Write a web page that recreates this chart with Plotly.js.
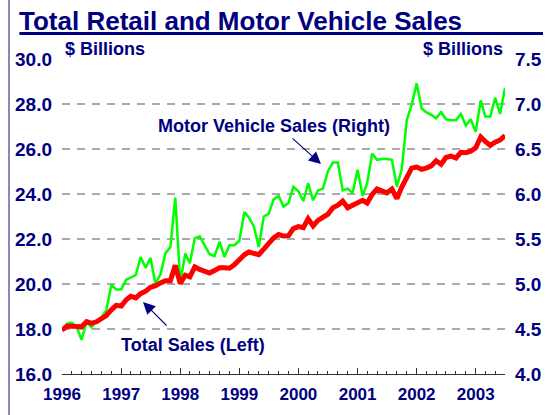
<!DOCTYPE html>
<html>
<head>
<meta charset="utf-8">
<script src="https://cdn.plot.ly/plotly-3.0.1.min.js"></script>
<style>html,body{margin:0;padding:0;background:#fff;}#chart{width:553px;height:415px;}</style>
</head>
<body>
<div id="chart"></div>
<script>
// Monthly observations, Jan 1996 - Jul 2003
var months = [
 '1996-01-01','1996-02-01','1996-03-01','1996-04-01','1996-05-01','1996-06-01','1996-07-01','1996-08-01','1996-09-01','1996-10-01','1996-11-01','1996-12-01',
 '1997-01-01','1997-02-01','1997-03-01','1997-04-01','1997-05-01','1997-06-01','1997-07-01','1997-08-01','1997-09-01','1997-10-01','1997-11-01','1997-12-01',
 '1998-01-01','1998-02-01','1998-03-01','1998-04-01','1998-05-01','1998-06-01','1998-07-01','1998-08-01','1998-09-01','1998-10-01','1998-11-01','1998-12-01',
 '1999-01-01','1999-02-01','1999-03-01','1999-04-01','1999-05-01','1999-06-01','1999-07-01','1999-08-01','1999-09-01','1999-10-01','1999-11-01','1999-12-01',
 '2000-01-01','2000-02-01','2000-03-01','2000-04-01','2000-05-01','2000-06-01','2000-07-01','2000-08-01','2000-09-01','2000-10-01','2000-11-01','2000-12-01',
 '2001-01-01','2001-02-01','2001-03-01','2001-04-01','2001-05-01','2001-06-01','2001-07-01','2001-08-01','2001-09-01','2001-10-01','2001-11-01','2001-12-01',
 '2002-01-01','2002-02-01','2002-03-01','2002-04-01','2002-05-01','2002-06-01','2002-07-01','2002-08-01','2002-09-01','2002-10-01','2002-11-01','2002-12-01',
 '2003-01-01','2003-02-01','2003-03-01','2003-04-01','2003-05-01','2003-06-01','2003-07-01'
];

// Total retail sales, $ billions (left axis)
var totalSales = [
 17.95,18.12,18.12,18.09,18.10,18.33,18.25,18.32,18.46,18.60,18.85,19.05,
 19.02,19.30,19.45,19.38,19.57,19.68,19.85,19.92,20.05,20.15,20.15,20.83,
 20.02,20.39,20.32,20.76,20.65,20.55,20.49,20.60,20.72,20.72,20.70,20.85,
 21.10,21.30,21.42,21.37,21.30,21.55,21.80,22.05,22.20,22.13,22.15,22.46,
 22.55,22.50,22.90,22.58,22.83,22.98,23.10,23.39,23.50,23.68,23.39,23.50,
 23.62,23.72,23.60,23.98,24.22,24.12,24.05,24.22,23.80,24.31,24.75,25.15,
 25.20,25.10,25.15,25.25,25.48,25.32,25.62,25.68,25.60,25.85,25.83,25.90,
 26.05,26.53,26.34,26.16,26.30,26.40,26.60
];

// Motor vehicle sales, $ billions (right axis)
var motorVehicle = [
 4.49,4.56,4.57,4.52,4.38,4.58,4.52,4.59,4.63,4.71,4.99,4.94,
 4.94,5.05,5.07,5.10,5.30,5.18,5.29,5.00,5.11,5.34,5.41,5.96,
 5.02,5.34,5.23,5.51,5.53,5.42,5.33,5.31,5.47,5.30,5.43,5.43,
 5.48,5.80,5.74,5.64,5.41,5.75,5.78,5.94,5.98,5.86,5.90,6.08,
 6.03,5.92,6.12,5.93,6.04,6.06,6.25,6.35,6.35,6.04,6.06,6.01,
 6.27,5.98,6.12,6.45,6.38,6.39,6.39,6.38,6.08,6.28,6.82,6.99,
 7.23,6.95,6.91,6.88,6.84,6.91,6.83,6.82,6.82,6.89,6.76,6.83,
 6.69,7.04,6.86,6.86,7.07,6.89,7.18
];

var leftTicks = [16, 18, 20, 22, 24, 26, 28, 30];
var rightTicks = [4.0, 4.5, 5.0, 5.5, 6.0, 6.5, 7.0, 7.5];

var NAVY = '#000080';
var FONT = 'Liberation Sans, Arial, sans-serif';

// pixel -> paper helpers (plot area: left 62, width 443, bottom 374, height 315)
function px(x) { return (x - 62) / 443; }
function py(y) { return (374 - y) / 315; }

var traces = [
  {
    x: months, y: motorVehicle, yaxis: 'y', type: 'scatter', mode: 'lines',
    name: 'Motor Vehicle Sales (Right)',
    line: {color: '#00ff00', width: 2.5}
  },
  {
    x: months, y: totalSales, yaxis: 'y2', type: 'scatter', mode: 'lines',
    name: 'Total Sales (Left)',
    line: {color: '#ff0000', width: 5}
  }
];

var tickFont = {family: FONT, size: 19, color: NAVY, weight: 'bold'};

var layout = {
  width: 553, height: 415,
  margin: {l: 62, r: 48, t: 59, b: 41, pad: 0},
  paper_bgcolor: '#ffffff', plot_bgcolor: '#ffffff',
  showlegend: false,
  title: {
    text: '<b>Total Retail and Motor Vehicle Sales</b>',
    font: {family: FONT, size: 26, color: NAVY},
    xref: 'container', x: 19 / 553, xanchor: 'left',
    yref: 'container', y: 1 - 20.9 / 415, yanchor: 'middle'
  },
  xaxis: {
    type: 'date',
    range: ['1996-01-01', '2003-07-01'],
    tick0: '1996-01-01', dtick: 'M12', tickformat: '%Y',
    ticks: 'inside', ticklen: 6, tickwidth: 1, tickcolor: '#333333',
    showline: true, linecolor: '#333333', linewidth: 1,
    showgrid: false, zeroline: false,
    tickfont: {family: FONT, size: 17, color: NAVY, weight: 'bold'},
    ticklabelstandoff: 5,
    minor: {ticks: 'inside', ticklen: 3, dtick: 'M2', tickcolor: '#333333', tickwidth: 1, showgrid: false}
  },
  yaxis: {
    side: 'right',
    range: [4, 7.5],
    tickvals: rightTicks, tickformat: '.1f',
    ticks: '', showline: false, zeroline: false,
    showgrid: true, gridcolor: '#aaaaaa', gridwidth: 2, griddash: '8px,7px',
    tickfont: tickFont, ticklabelstandoff: 9
  },
  yaxis2: {
    side: 'left', overlaying: 'y',
    range: [16, 30],
    tickvals: leftTicks, tickformat: '.1f',
    ticks: '', showline: false, zeroline: false, showgrid: false,
    tickfont: tickFont, ticklabelstandoff: 9
  },
  shapes: [
    {type: 'line', xref: 'paper', yref: 'paper', x0: px(19.4), x1: px(543), y0: py(33.5), y1: py(33.5),
     line: {color: NAVY, width: 3}},
    {type: 'line', xref: 'paper', yref: 'paper', x0: px(9), x1: px(9), y0: py(0), y1: py(415),
     line: {color: '#3a3a98', width: 1.2}}
  ],
  annotations: [
    {xref: 'paper', yref: 'paper', x: px(63), y: py(49), xanchor: 'left', yanchor: 'middle',
     text: '<b>$ Billions</b>', showarrow: false, font: {family: FONT, size: 18, color: NAVY}},
    {xref: 'paper', yref: 'paper', x: px(505), y: py(49), xanchor: 'right', yanchor: 'middle',
     text: '<b>$ Billions</b>', showarrow: false, font: {family: FONT, size: 18, color: NAVY}},
    {xref: 'paper', yref: 'paper', x: px(274), y: py(126), xanchor: 'center', yanchor: 'middle',
     text: '<b>Motor Vehicle Sales (Right)</b>', showarrow: false, font: {family: FONT, size: 18, color: NAVY}},
    {xref: 'paper', yref: 'paper', x: px(193.4), y: py(345), xanchor: 'center', yanchor: 'middle',
     text: '<b>Total Sales (Left)</b>', showarrow: false, font: {family: FONT, size: 18, color: NAVY}},
    {xref: 'paper', yref: 'paper', x: px(321), y: py(164), text: '', showarrow: true,
     ax: -30, ay: -27, arrowhead: 2, arrowsize: 2.2, arrowwidth: 1.1, arrowcolor: NAVY},
    {xref: 'paper', yref: 'paper', x: px(143), y: py(302), text: '', showarrow: true,
     ax: 25, ay: 25, arrowhead: 2, arrowsize: 2.2, arrowwidth: 1.1, arrowcolor: NAVY}
  ]
};

Plotly.newPlot('chart', traces, layout, {staticPlot: true, displayModeBar: false});
</script>
</body>
</html>
